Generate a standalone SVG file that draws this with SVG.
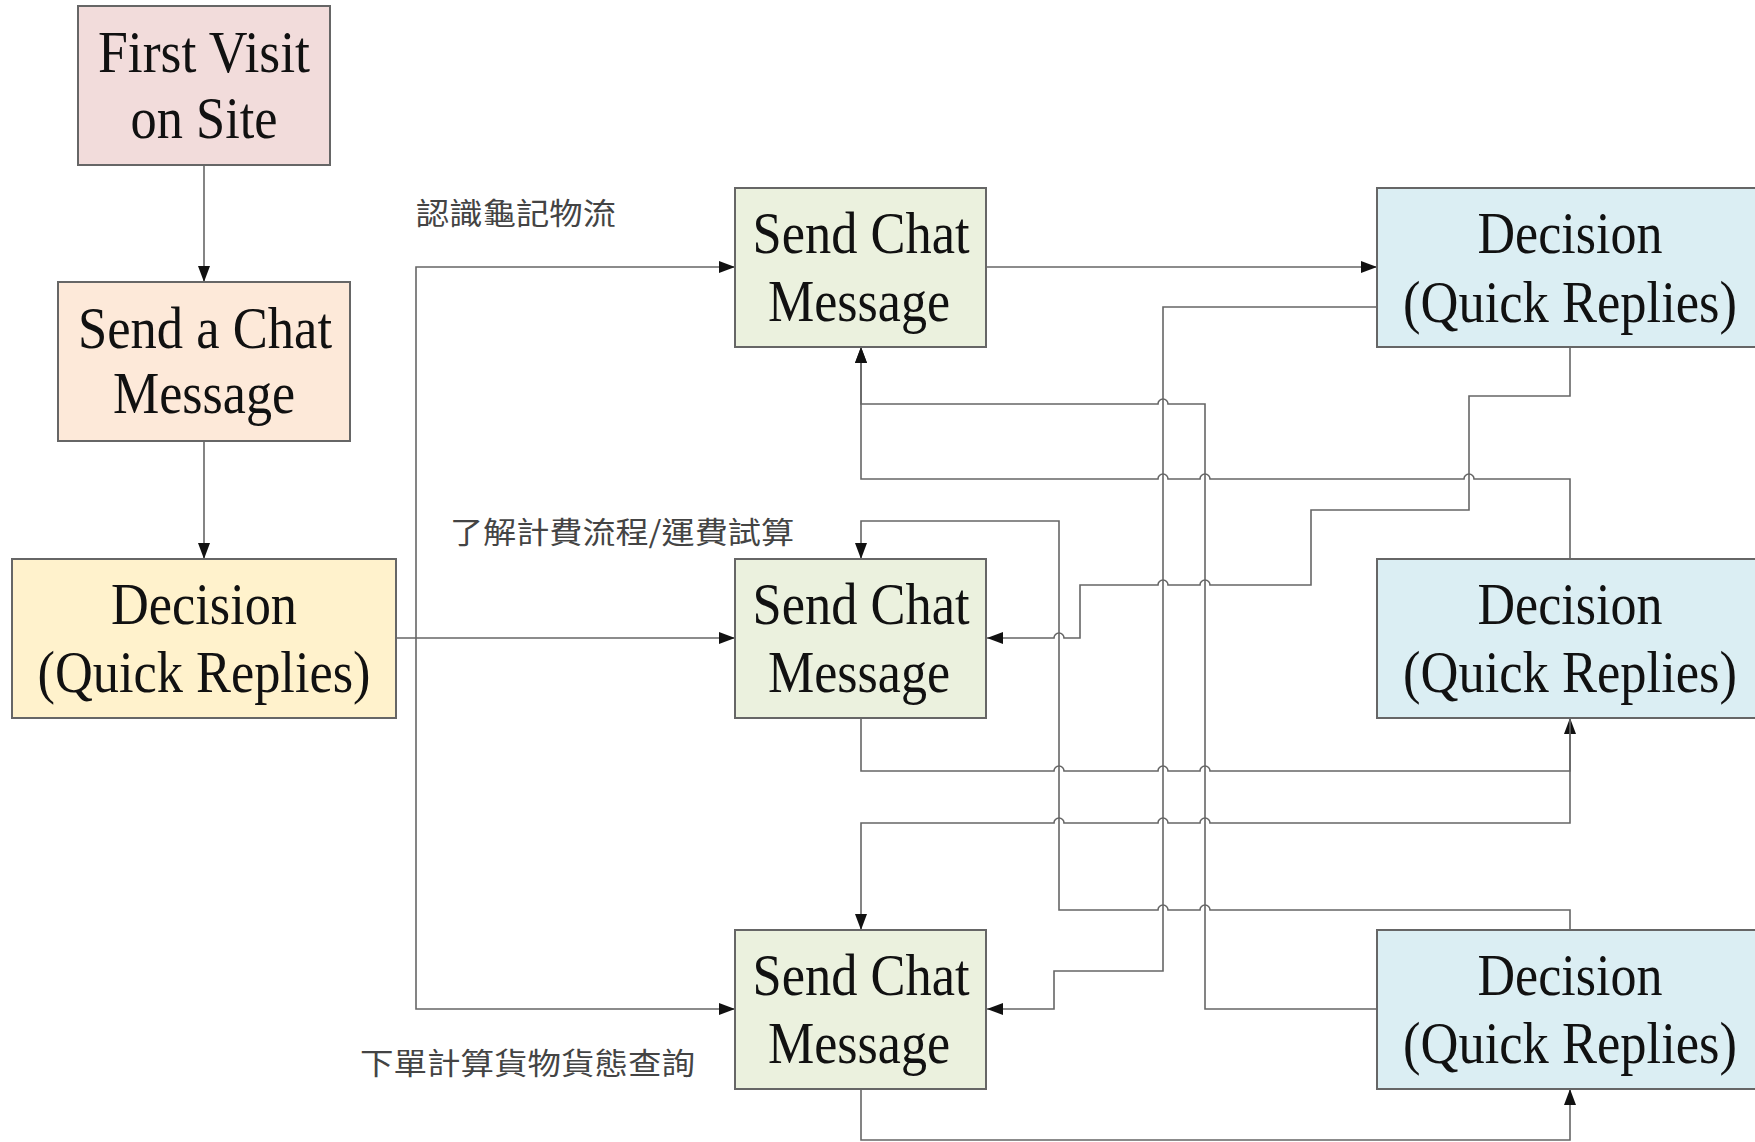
<svg xmlns="http://www.w3.org/2000/svg" width="1755" height="1142" viewBox="0 0 1755 1142">
<style>
.box{stroke:#666;stroke-width:2}
.t{font-family:"Liberation Serif","Times New Roman",serif;font-size:60px;fill:#111;text-anchor:middle}
.lbl{font-family:"Noto Sans CJK TC","Noto Sans CJK SC",sans-serif;font-size:30px;fill:#444}
.c{fill:none;stroke:#666;stroke-width:1.6}
.a{marker-end:url(#arr)}
</style>
<defs>
<marker id="arr" markerUnits="userSpaceOnUse" markerWidth="16" markerHeight="12" refX="16" refY="6" orient="auto">
<path d="M0,0 L16,6 L0,12 z" fill="#111"/>
</marker>
</defs>
<rect width="1755" height="1142" fill="#fff"/>

<g id="connectors">
<path class="c a" d="M204,165 V282"/>
<path class="c a" d="M204,441 V559"/>
<path class="c a" d="M396,638 H735"/>
<path class="c a" d="M416,638 V267 H735"/>
<path class="c a" d="M416,638 V1009 H735"/>
<path class="c a" d="M986,267 H1377"/>
<path class="c a" d="M1377,307 H1163 V971 H1054 V1009 H987"/>
<path class="c a" d="M1570,347 V396 H1469 V510 H1311 V585 H1210 A5,5 0 0 0 1200,585 H1168 A5,5 0 0 0 1158,585 H1080 V638 H1064 A5,5 0 0 0 1054,638 H987"/>
<path class="c a" d="M1570,559 V479 H1474 A5,5 0 0 0 1464,479 H1210 A5,5 0 0 0 1200,479 H1168 A5,5 0 0 0 1158,479 H861 V347"/>
<path class="c a" d="M861,718 V771 H1054 A5,5 0 0 1 1064,771 H1158 A5,5 0 0 1 1168,771 H1200 A5,5 0 0 1 1210,771 H1570 V718"/>
<path class="c a" d="M1570,718 V823 H1210 A5,5 0 0 0 1200,823 H1168 A5,5 0 0 0 1158,823 H1064 A5,5 0 0 0 1054,823 H861 V930"/>
<path class="c a" d="M1570,930 V910 H1210 A5,5 0 0 0 1200,910 H1168 A5,5 0 0 0 1158,910 H1059 V521 H861 V559"/>
<path class="c a" d="M1377,1009 H1205 V404 H1168 A5,5 0 0 0 1158,404 H861 V347"/>
<path class="c a" d="M861,1089 V1140 H1570 V1089"/>
</g>

<g id="labels">
<text class="lbl" x="416" y="224" textLength="200" lengthAdjust="spacingAndGlyphs">認識龜記物流</text>
<text class="lbl" x="450" y="543" textLength="344" lengthAdjust="spacingAndGlyphs">了解計費流程/運費試算</text>
<text class="lbl" x="360" y="1074" textLength="335" lengthAdjust="spacingAndGlyphs">下單計算貨物貨態查詢</text>
</g>

<g id="first-visit">
<rect class="box" x="78" y="6" width="252" height="159" fill="#f2dcdb"/>
<text class="t" x="204" y="72" textLength="212" lengthAdjust="spacingAndGlyphs">First Visit</text>
<text class="t" x="204" y="138" textLength="147" lengthAdjust="spacingAndGlyphs">on Site</text>
</g>

<g id="send-a-chat">
<rect class="box" x="58" y="282" width="292" height="159" fill="#fde9d9"/>
<text class="t" x="205" y="348" textLength="254" lengthAdjust="spacingAndGlyphs">Send a Chat</text>
<text class="t" x="204" y="413" textLength="182" lengthAdjust="spacingAndGlyphs">Message</text>
</g>

<g id="decision-main">
<rect class="box" x="12" y="559" width="384" height="159" fill="#fff2cc"/>
<text class="t" x="204" y="624" textLength="186" lengthAdjust="spacingAndGlyphs">Decision</text>
<text class="t" x="204" y="692" textLength="333" lengthAdjust="spacingAndGlyphs">(Quick Replies)</text>
</g>

<g id="send-chat-1">
<rect class="box" x="735" y="188" width="251" height="159" fill="#ebf1de"/>
<text class="t" x="861" y="253" textLength="217" lengthAdjust="spacingAndGlyphs">Send Chat</text>
<text class="t" x="859" y="321" textLength="182" lengthAdjust="spacingAndGlyphs">Message</text>
</g>

<g id="send-chat-2">
<rect class="box" x="735" y="559" width="251" height="159" fill="#ebf1de"/>
<text class="t" x="861" y="624" textLength="217" lengthAdjust="spacingAndGlyphs">Send Chat</text>
<text class="t" x="859" y="692" textLength="182" lengthAdjust="spacingAndGlyphs">Message</text>
</g>

<g id="send-chat-3">
<rect class="box" x="735" y="930" width="251" height="159" fill="#ebf1de"/>
<text class="t" x="861" y="995" textLength="217" lengthAdjust="spacingAndGlyphs">Send Chat</text>
<text class="t" x="859" y="1063" textLength="182" lengthAdjust="spacingAndGlyphs">Message</text>
</g>

<g id="decision-1">
<rect class="box" x="1377" y="188" width="390" height="159" fill="#dbeef3"/>
<text class="t" x="1570" y="253" textLength="185" lengthAdjust="spacingAndGlyphs">Decision</text>
<text class="t" x="1570" y="322" textLength="334" lengthAdjust="spacingAndGlyphs">(Quick Replies)</text>
</g>

<g id="decision-2">
<rect class="box" x="1377" y="559" width="390" height="159" fill="#dbeef3"/>
<text class="t" x="1570" y="624" textLength="185" lengthAdjust="spacingAndGlyphs">Decision</text>
<text class="t" x="1570" y="692" textLength="334" lengthAdjust="spacingAndGlyphs">(Quick Replies)</text>
</g>

<g id="decision-3">
<rect class="box" x="1377" y="930" width="390" height="159" fill="#dbeef3"/>
<text class="t" x="1570" y="995" textLength="185" lengthAdjust="spacingAndGlyphs">Decision</text>
<text class="t" x="1570" y="1063" textLength="334" lengthAdjust="spacingAndGlyphs">(Quick Replies)</text>
</g>
</svg>
